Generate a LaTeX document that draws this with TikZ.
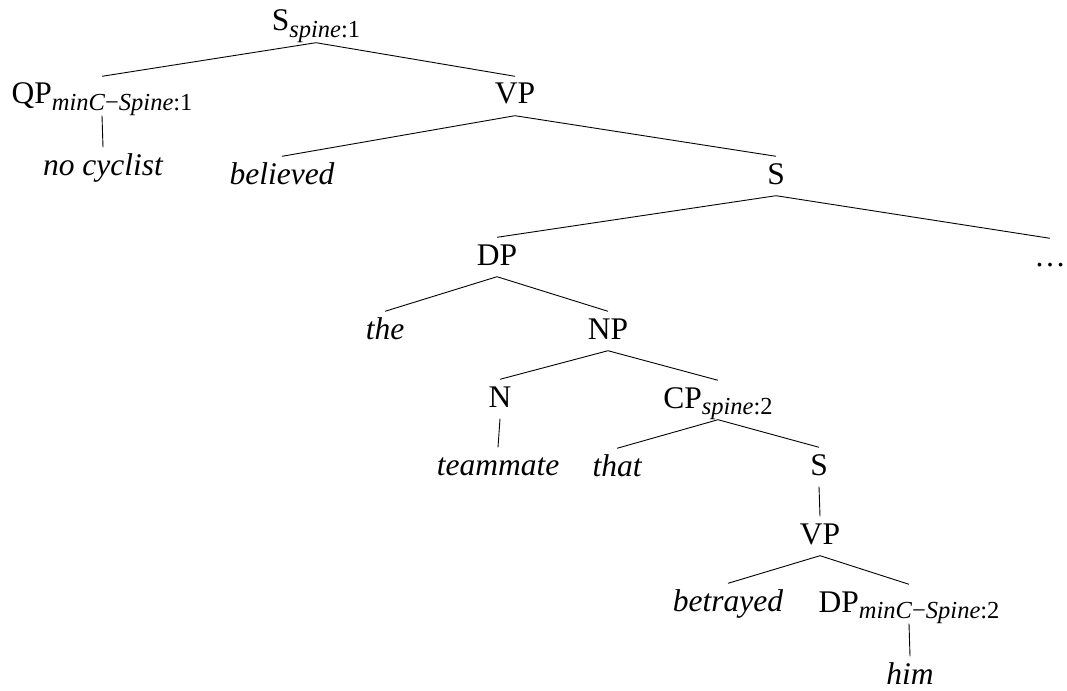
\documentclass[tikz,border=0pt]{standalone}
\usepackage{fontspec}
\setmainfont{Liberation Serif}
\usepackage{tikz}
\newcommand\lsub[1]{\raisebox{-0.2em}{\fontsize{24.5}{26}\selectfont #1}}

\begin{document}
\begin{tikzpicture}[x=1pt,y=-1pt,
  cat/.style={inner xsep=1pt,inner ysep=3.5pt,text height=24pt,text depth=8pt,
              font=\fontsize{31.5}{36}\selectfont},
  wrd/.style={cat,font=\fontsize{31.5}{36}\selectfont\itshape},
  br/.style={draw=black,line width=0.9pt}]
\useasboundingbox (0,0) rectangle (1067,690);

\node[cat](s1) at (316,23){S\lsub{\textit{spine}:1}};
\node[cat](qp1) at (102,96){QP\lsub{\textit{minC}−\textit{Spine}:1}};
\node[cat](vp1) at (515,96){VP};
\node[wrd](nocyc) at (103,167){no cyclist};
\node[wrd](believed) at (282,176){believed};
\node[cat](s2) at (776,176){S};
\node[cat](dp1) at (497,257){DP};
\node[cat](dots) at (1050,258){\dots};
\node[wrd](the) at (385,331){the};
\node[cat](np) at (608,331){NP};
\node[cat](n) at (500,399){N};
\node[cat](cp) at (718,400){CP\lsub{\textit{spine}:2}};
\node[wrd](teammate) at (498,467){teammate};
\node[wrd](that) at (617,468){that};
\node[cat](s3) at (819,467){S};
\node[cat](vp2) at (820,536){VP};
\node[wrd](betrayed) at (728,603){betrayed};
\node[cat](dp2) at (909,604){DP\lsub{\textit{minC}−\textit{Spine}:2}};
\node[wrd](him) at (910,676){him};

\draw[br](s1.south)--(qp1.north); \draw[br](s1.south)--(vp1.north);
\draw[br](qp1.south)--(nocyc.north);
\draw[br](vp1.south)--(believed.north); \draw[br](vp1.south)--(s2.north);
\draw[br](s2.south)--(dp1.north); \draw[br](s2.south)--(dots.north);
\draw[br](dp1.south)--(the.north); \draw[br](dp1.south)--(np.north);
\draw[br](np.south)--(n.north); \draw[br](np.south)--(cp.north);
\draw[br](n.south)--(teammate.north);
\draw[br](cp.south)--(that.north); \draw[br](cp.south)--(s3.north);
\draw[br](s3.south)--(vp2.north);
\draw[br](vp2.south)--(betrayed.north); \draw[br](vp2.south)--(dp2.north);
\draw[br](dp2.south)--(him.north);
\end{tikzpicture}
\end{document}
